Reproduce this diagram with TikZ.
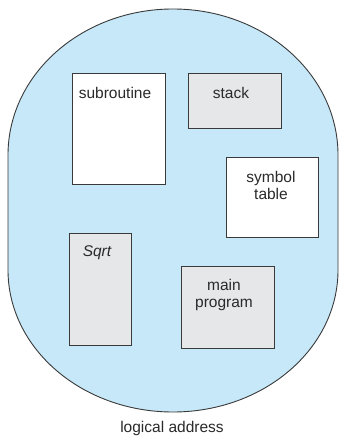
\documentclass[tikz,border=0pt]{standalone}
\usepackage{fontspec}
\setmainfont{Liberation Sans}
\definecolor{segblue}{HTML}{C6E8F8}
\definecolor{seggray}{HTML}{E6E7E8}
\definecolor{segline}{HTML}{3A3A3A}
\definecolor{segtext}{HTML}{2A2A2A}
\begin{document}
\begin{tikzpicture}[x=1pt,y=1pt,
  segbox/.style={draw=segline,line width=1.3pt,rectangle,inner sep=0pt,anchor=south west},
  segtxt/.style={text=segtext,font=\fontsize{15.5}{17}\selectfont,align=center,inner sep=0pt}]
\useasboundingbox (0,0) rectangle (338,439);
\fill[white] (0,0) rectangle (338,439);
\filldraw[fill=segblue,draw=segline,line width=0.9pt]
  (8,284) arc[start angle=180,end angle=0,x radius=165,y radius=146]
  -- (338,169) arc[start angle=0,end angle=-180,x radius=165,y radius=142] -- cycle;
\node[segbox,fill=white,minimum width=93pt,minimum height=111pt] (sub) at (72,254) {};
\node[segbox,fill=seggray,minimum width=93pt,minimum height=55pt] (stk) at (188,310) {};
\node[segbox,fill=white,minimum width=92pt,minimum height=80pt] (sym) at (226,201) {};
\node[segbox,fill=seggray,minimum width=62pt,minimum height=112pt] (sqr) at (69,93) {};
\node[segbox,fill=seggray,minimum width=93pt,minimum height=82pt] (mp) at (181,90) {};
\node[segtxt] (tsub) at (115,346) {subroutine};
\node[segtxt] (tstk) at (231,346) {stack};
\node[segtxt] (tsym) at (271,253.5) {symbol\\table};
\node[segtxt,font=\fontsize{15.5}{17}\selectfont\itshape] (tsqr) at (97,186) {Sqrt};
\node[segtxt] (tmp) at (224,144) {main\\program};
\node[segtxt] (tla) at (172,11) {logical address};
\end{tikzpicture}
\end{document}
